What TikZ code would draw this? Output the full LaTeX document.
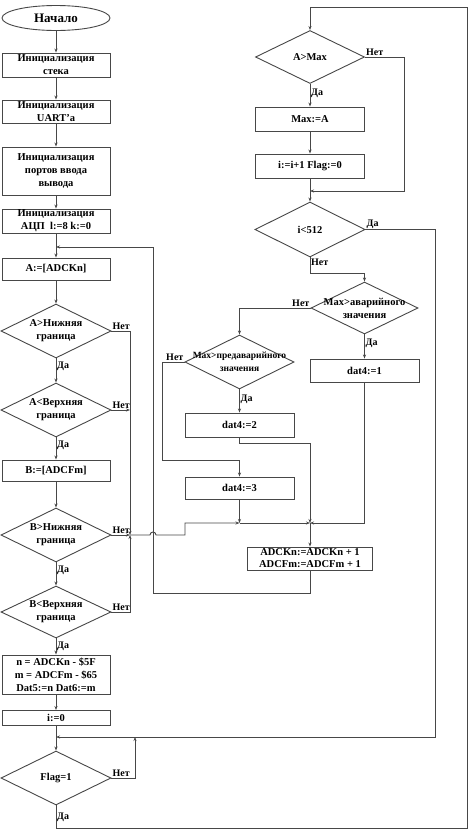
\documentclass[tikz,border=0pt]{standalone}
\usepackage{fontspec}
\setmainfont{Liberation Serif}
\usetikzlibrary{shapes.geometric,arrows.meta,calc}
\begin{document}
\begin{tikzpicture}[x=1pt,y=-1pt,
  ln/.style={draw=black!72, line width=0.9pt},
  arr/.style={ln, -{Stealth[length=4pt,width=3pt]}},
  box/.style={ln, rectangle, inner sep=0pt, minimum width=108pt, align=center, font=\bfseries\fontsize{10.5}{13}\selectfont},
  dia/.style={ln, diamond, inner sep=0pt},
  dtext/.style={align=center, inner sep=0pt, font=\bfseries\fontsize{10.5}{13}\selectfont},
  lab/.style={inner sep=1pt, font=\bfseries\fontsize{10}{12}\selectfont},
]
\fill[white] (0,0) rectangle (474,836);
\useasboundingbox (0,0) rectangle (474,836);

% left column
\node[ln, ellipse, minimum width=108pt, minimum height=25pt, inner sep=0pt, font=\bfseries\fontsize{13}{15}\selectfont] (start) at (56,18) {Начало};
\node[box, minimum height=24pt] (b1) at (56,65) {Инициализация\\стека};
\node[box, minimum height=23pt] (b2) at (56,111.5) {Инициализация\\UART'а};
\node[box, minimum height=48pt] (b3) at (56,171) {Инициализация\\портов ввода\\вывода};
\node[box, minimum height=24pt] (b4) at (56,221) {Инициализация\\АЦП\ \ l:=8 k:=0};
\node[box, minimum height=22pt] (bA) at (56,269) {A:=[ADCKn]};
\node[dia, minimum width=110pt, minimum height=54pt] (dA1) at (56,331) {};
\node[dtext] (tA1) at (56,331) {A>Нижняя\\граница};
\node[dia, minimum width=110pt, minimum height=54pt] (dA2) at (56,410) {};
\node[dtext] (tA2) at (56,410) {A<Верхняя\\граница};
\node[box, minimum height=21pt] (bB) at (56,470.5) {B:=[ADCFm]};
\node[dia, minimum width=110pt, minimum height=54pt] (dB1) at (56,535) {};
\node[dtext] (tB1) at (56,535) {B>Нижняя\\граница};
\node[dia, minimum width=110pt, minimum height=52pt] (dB2) at (56,612) {};
\node[dtext] (tB2) at (56,612) {B<Верхняя\\граница};
\node[box, minimum height=39pt] (bN) at (56,674.5) {n = ADCKn - \$5F\\m = ADCFm - \$65\\Dat5:=n Dat6:=m};
\node[box, minimum height=15pt] (bI) at (56,718) {i:=0};
\node[dia, minimum width=110pt, minimum height=54pt] (dF) at (56,778) {};
\node[dtext] (tF) at (56,778) {Flag=1};

% right column
\node[dia, minimum width=109pt, minimum height=53pt] (dMax) at (310,57) {};
\node[dtext] (tMax) at (310,57) {A>Max};
\node[box, minimum width=109pt, minimum height=24pt] (bMax) at (310,119) {Max:=A};
\node[box, minimum width=109pt, minimum height=24pt] (bInc) at (310,166) {i:=i+1 Flag:=0};
\node[dia, minimum width=110pt, minimum height=55pt] (dI) at (310,229.5) {};
\node[dtext] (tI) at (310,229.5) {i<512};
\node[dia, minimum width=107pt, minimum height=52pt] (dAv) at (364.5,308) {};
\node[dtext] (tAv) at (364.5,308) {Max>аварийного\\значения};
\node[box, minimum width=109pt, minimum height=23pt] (bD1) at (364.5,370.5) {dat4:=1};
\node[dia, minimum width=109pt, minimum height=54pt] (dPre) at (239.5,362) {};
\node[dtext, font=\bfseries\fontsize{9.5}{13}\selectfont] (tPre) at (239.5,362) {Max>предаварийного\\значения};
\node[box, minimum width=109pt, minimum height=24pt] (bD2) at (239.5,425) {dat4:=2};
\node[box, minimum width=109pt, minimum height=22pt] (bD3) at (239.5,488) {dat4:=3};
\node[box, minimum width=125pt, minimum height=23pt, font=\bfseries\fontsize{10.5}{12}\selectfont] (bADC) at (310,558.5) {ADCKn:=ADCKn + 1\\ADCFm:=ADCFm + 1};

% labels
\node[lab, anchor=south west] (lA1n) at (dA1.east) {Нет};
\node[lab, anchor=north west] (lA1d) at ($(dA1.south)+(0,2)$) {Да};
\node[lab, anchor=south west] (lA2n) at (dA2.east) {Нет};
\node[lab, anchor=north west] (lA2d) at ($(dA2.south)+(0,2)$) {Да};
\node[lab, anchor=south west] (lB1n) at (dB1.east) {Нет};
\node[lab, anchor=north west] (lB1d) at ($(dB1.south)+(0,2)$) {Да};
\node[lab, anchor=south west] (lB2n) at (dB2.east) {Нет};
\node[lab, anchor=north west] (lB2d) at ($(dB2.south)+(0,2)$) {Да};
\node[lab, anchor=south west] (lFn) at (dF.east) {Нет};
\node[lab, anchor=north west] (lFd) at ($(dF.south)+(0,6)$) {Да};
\node[lab, anchor=south west] (lMn) at (dMax.east) {Нет};
\node[lab, anchor=north west] (lMd) at ($(dMax.south)+(0,4)$) {Да};
\node[lab, anchor=south west] (lId) at (dI.east) {Да};
\node[lab, anchor=north west] (lIn) at (dI.south) {Нет};
\node[lab, anchor=south east] (lAvn) at (dAv.west) {Нет};
\node[lab, anchor=north west] (lAvd) at ($(dAv.south)+(0,3)$) {Да};
\node[lab, anchor=south east] (lPn) at (dPre.west) {Нет};
\node[lab, anchor=north west] (lPd) at ($(dPre.south)+(0,4)$) {Да};

% coordinates
\coordinate (j1) at (56,247);
\coordinate (j2) at (56,737);
\coordinate (m1) at (130,535);
\coordinate (m2) at (239.5,523);
\coordinate (m3) at (310,523);
\coordinate (m4) at (310,191);

% left column connectors
\draw[arr] (start.south) -- (b1.north);
\draw[arr] (b1.south) -- (b2.north);
\draw[arr] (b2.south) -- (b3.north);
\draw[arr] (b3.south) -- (b4.north);
\draw[arr] (b4.south) -- (bA.north);
\draw[arr] (bA.south) -- (dA1.north);
\draw[arr] (dA1.south) -- (dA2.north);
\draw[arr] (dA2.south) -- (bB.north);
\draw[arr] (bB.south) -- (dB1.north);
\draw[arr] (dB1.south) -- (dB2.north);
\draw[arr] (dB2.south) -- (bN.north);
\draw[arr] (bN.south) -- (bI.north);
\draw[arr] (bI.south) -- (dF.north);

% "Нет" merges at x=130
\draw[arr] (dA1.east) -| (m1);
\draw[arr] (dA2.east) -- (130,410);
\draw[arr] (dB1.east) -- (m1);
\draw[arr] (dB2.east) -| (m1);
\draw[arr] (m1) -- (150,535) arc[start angle=180,end angle=0,radius=3pt] -- (185,535) |- (m2);

% loop back
\draw[arr] (bADC.south) -- ++(0,23) -| (153,247) -- (j1);

% right part
\draw[arr] (dF.south) -- ++(0,23) -| (467,7) -| (dMax.north);
\draw[arr] (dMax.south) -- (bMax.north);
\draw[arr] (bMax.south) -- (bInc.north);
\draw[arr] (bInc.south) -- (dI.north);
\draw[arr] (dMax.east) -| (404,191) -- (m4);
\draw[arr] (dI.east) -| (435,737) -- (j2);
\draw[arr] (dF.east) -| (135,737);
\draw[arr] (dI.south) -- ++(0,16) -| (dAv.north);
\draw[arr] (dAv.west) -| (dPre.north);
\draw[arr] (dAv.south) -- (bD1.north);
\draw[arr] (dPre.south) -- (bD2.north);
\draw[arr] (dPre.west) -| (162,460) -| (bD3.north);
\draw[arr] (bD2.south) -- ++(0,6) -| (m3);
\draw[arr] (bD3.south) -- (m2);
\draw[arr] (m2) -- (m3);
\draw[arr] (bD1.south) |- (m3);
\draw[arr] (m3) -- (bADC.north);
\end{tikzpicture}
\end{document}
